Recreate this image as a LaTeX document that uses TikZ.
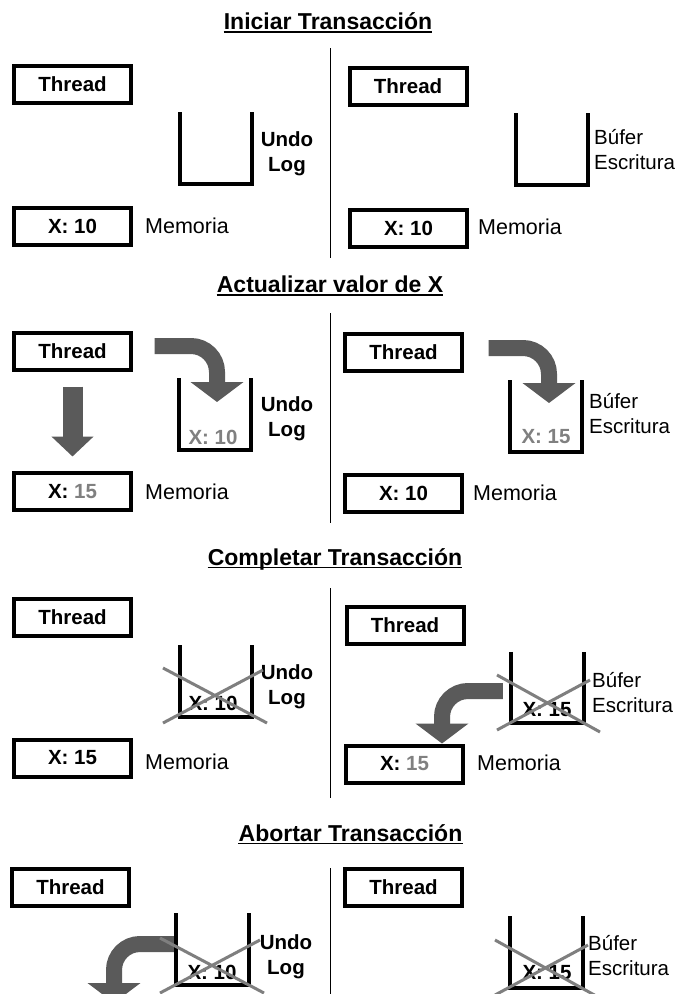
\documentclass[tikz,border=0pt]{standalone}
\usepackage{fontspec}
\setmainfont{Liberation Sans}
\usetikzlibrary{arrows.meta}
\definecolor{arrowgray}{HTML}{5A5A5A}
\definecolor{crossgray}{HTML}{7F7F7F}
\definecolor{valgray}{HTML}{808080}
\tikzset{
  titlenode/.style = {anchor=base, inner sep=0pt, font=\fontsize{23}{27}\selectfont\bfseries},
  uline/.style = {line width=1.7pt},
  divider/.style = {line width=1pt},
  boxnode/.style = {draw, line width=4pt, minimum width=117pt, minimum height=37pt, inner sep=0pt, font=\fontsize{20.5}{25}\selectfont\bfseries},
  bucketnode/.style = {minimum width=72pt, minimum height=71pt, inner sep=0pt},
  bucketline/.style = {line width=3.7pt},
  valnode/.style = {inner sep=0pt, font=\fontsize{20.5}{25}\selectfont\bfseries},
  lblundo/.style = {align=center, inner sep=0pt, font=\fontsize{20.5}{25}\selectfont\bfseries},
  lblbuf/.style = {anchor=west, align=left, inner sep=0pt, font=\fontsize{20.5}{25}\selectfont},
  memlbl/.style = {anchor=west, inner sep=0pt, font=\fontsize{21.5}{25}\selectfont},
  bigarrow/.style = {arrowgray, line width=16pt, rounded corners=26pt, -{Triangle[width=52pt,length=20pt]}},
  downarrow/.style = {arrowgray, line width=20pt, -{Triangle[width=41pt,length=20pt]}},
  crossline/.style = {crossgray, line width=3pt}
}

\begin{document}
\begin{tikzpicture}[x=1pt, y=-1pt]
	\clip (0,0) rectangle (679,994);
	\fill[white] (0,0) rectangle (679,994);

	% Iniciar
	\node [titlenode] (titleA) at (328,29.3) {Iniciar Transacción};
	\draw [uline] ([yshift=-2.5pt]titleA.base west) -- ([yshift=-2.5pt]titleA.base east);
	\draw [divider] (330.5,48) -- (330.5,258);
	\node [boxnode] (thrA) at (72.5,84.5) {Thread};
	\node [boxnode] (memA) at (72.5,226) {X: 10};
	\node [memlbl] (memlblA) at (145,226) {Memoria};
	\node [bucketnode] (undoA) at (216,148) {};
	\node [lblundo] (lblA) at (287,154) {Undo\\Log};
	\node [boxnode] (thrB) at (408,86) {Thread};
	\node [boxnode] (memB) at (408.5,228) {X: 10};
	\node [memlbl] (memlblB) at (478,227) {Memoria};
	\node [bucketnode] (bufB) at (552,149) {};
	\node [lblbuf] (lblB) at (594,150) {Búfer\\Escritura};

	% Actualizar
	\node [titlenode] (titleB) at (330,292.5) {Actualizar valor de X};
	\draw [uline] ([yshift=-2.5pt]titleB.base west) -- ([yshift=-2.5pt]titleB.base east);
	\draw [divider] (330.5,313) -- (330.5,523);
	\node [boxnode] (thrC) at (72.5,351) {Thread};
	\node [boxnode] (memC) at (72.5,491.5) {X: \textcolor{valgray}{15}};
	\node [memlbl] (memlblC) at (145,492) {Memoria};
	\node [bucketnode] (undoC) at (215,414) {};
	\node [valnode, valgray] (valC) at (213,437) {X: 10};
	\node [lblundo] (lblC) at (287,419) {Undo\\Log};
	\node [boxnode] (thrD) at (403.5,352) {Thread};
	\node [boxnode] (memD) at (403.5,493.5) {X: 10};
	\node [memlbl] (memlblD) at (473,493) {Memoria};
	\node [bucketnode] (bufD) at (546,416) {};
	\node [valnode, valgray] (valD) at (546,437) {X: 15};
	\node [lblbuf] (lblD) at (589,413.5) {Búfer\\Escritura};
	\draw [downarrow] ([yshift=-15pt]thrC.south) -- ([yshift=14.5pt]memC.north);
	\draw [bigarrow] ([xshift=21.5pt,yshift=5pt]thrC.east) -| ([xshift=2pt,yshift=12pt]undoC.center);
	\draw [bigarrow] ([xshift=24.5pt,yshift=4pt]thrD.east) -| ([xshift=3pt,yshift=13pt]bufD.center);

	% Completar
	\node [titlenode] (titleC) at (335,565) {Completar Transacción};
	\draw [uline] ([yshift=-2.5pt]titleC.base west) -- ([yshift=-2.5pt]titleC.base east);
	\draw [divider] (330.5,588) -- (330.5,798);
	\node [boxnode] (thrE) at (72.5,617) {Thread};
	\node [boxnode] (memE) at (72.5,758) {X: 15};
	\node [memlbl] (memlblE) at (145,762) {Memoria};
	\node [bucketnode] (undoE) at (216,681) {};
	\node [valnode] (valE) at (213,703) {X: 10};
	\node [lblundo] (lblE) at (287,687) {Undo\\Log};
	\node [boxnode] (thrF) at (405,625) {Thread};
	\node [boxnode] (memF) at (404.5,764) {X: \textcolor{valgray}{15}};
	\node [memlbl] (memlblF) at (477,763) {Memoria};
	\node [bucketnode] (bufF) at (547.5,687.5) {};
	\node [valnode] (valF) at (547,710) {X: 15};
	\node [lblbuf] (lblF) at (592,692.5) {Búfer\\Escritura};
	\draw [bigarrow] ([xshift=-8.5pt,yshift=-3.5pt]bufF.west) -| ([xshift=37.5pt]memF.north);

	% Abortar
	\node [titlenode] (titleD) at (350.5,841) {Abortar Transacción};
	\draw [uline] ([yshift=-2.5pt]titleD.base west) -- ([yshift=-2.5pt]titleD.base east);
	\draw [divider] (330.5,868) -- (330.5,994);
	\node [boxnode] (thrG) at (70.5,887) {Thread};
	\node [bucketnode] (undoG) at (212.5,949) {};
	\node [valnode] (valG) at (212,972) {X: 10};
	\node [lblundo] (lblG) at (286,956.5) {Undo\\Log};
	\node [boxnode] (thrH) at (403.5,887.5) {Thread};
	\node [bucketnode] (bufH) at (546.5,952) {};
	\node [valnode] (valH) at (547,973) {X: 15};
	\node [lblbuf] (lblH) at (588,955.5) {Búfer\\Escritura};
	\coordinate (memG) at (114,1003);
	\draw [bigarrow] ([yshift=5pt]undoG.west) -| (memG);

	% buckets
	\foreach \b in {undoA,bufB,undoC,bufD,undoE,bufF,undoG,bufH}
		\draw [bucketline] (\b.north west) |- (\b.south east) -- (\b.north east);

	% crosses
	\draw [crossline] (163,668) -- (267,723) (163,723) -- (263,670);
	\draw [crossline] (497,675) -- (600,732) (497,730) -- (590,680);
	\draw [crossline] (160,938) -- (264,993) (160,993) -- (260,940);
	\draw [crossline] (495,940) -- (598,997) (495,995) -- (588,945);
\end{tikzpicture}
\end{document}
